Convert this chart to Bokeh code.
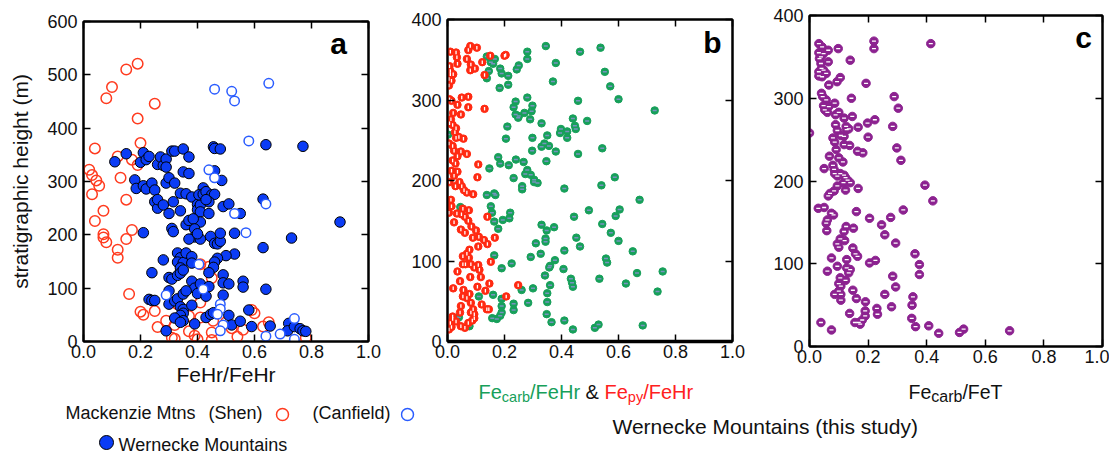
from bokeh.plotting import figure
from bokeh.models import Range1d, LinearAxis, FixedTicker, Label, PrintfTickFormatter
from bokeh.layouts import row, column
from bokeh.embed import file_html
from bokeh.resources import INLINE
import math

# ---------------- data ----------------
# Panel a: FeHr/FeHr vs stratigraphic height (m)
shen_x = [0.19, 0.15, 0.10, 0.08, 0.25, 0.19, 0.20, 0.04, 0.12, 0.17, 0.19, 0.02, 0.03, 0.045, 0.055,
          0.03, 0.13, 0.15, 0.07, 0.04, 0.07, 0.07, 0.08, 0.17, 0.15, 0.12, 0.12, 0.16, 0.20, 0.21,
          0.25, 0.26, 0.29, 0.31, 0.32, 0.32, 0.37, 0.37, 0.39, 0.40, 0.41, 0.41, 0.41, 0.44, 0.45,
          0.45, 0.45, 0.455, 0.50, 0.52, 0.54, 0.56, 0.59, 0.60, 0.63, 0.65, 0.78, 0.33]
shen_y = [521, 510, 477, 456, 446, 418, 372, 362, 347, 341, 331, 322, 312, 302, 292,
          276, 307, 266, 245, 226, 201, 195, 186, 209, 192, 172, 157, 89, 56, 50,
          57, 27, 39, 7, 5, 31, 48, 19, 11, 4, 45, 73, 145, 140, 119,
          17, 3, 39, 36, 25, 9, 22, 59, 53, 28, 36, 7, 70]

canfield_x = [0.46, 0.52, 0.53, 0.65, 0.58, 0.44, 0.46, 0.53, 0.57, 0.64, 0.405, 0.42, 0.29, 0.48,
              0.48, 0.47, 0.49, 0.48, 0.64, 0.69, 0.74, 0.74]
canfield_y = [473, 469, 451, 484, 376, 322, 307, 240, 204, 258, 145, 98, 87, 70,
              61, 51, 31, 20, 10, 14, 4, 43]

wern_x = [0.11, 0.15, 0.18, 0.185, 0.21, 0.20, 0.21, 0.22, 0.23, 0.21, 0.22, 0.24, 0.25, 0.25, 0.26,
          0.26, 0.28, 0.26, 0.27, 0.28, 0.29, 0.29, 0.29, 0.30, 0.31, 0.32, 0.35, 0.32, 0.315, 0.30,
          0.31, 0.315, 0.35, 0.37, 0.37, 0.34, 0.34, 0.36, 0.36, 0.38, 0.40, 0.40, 0.41, 0.42, 0.405,
          0.42, 0.43, 0.45, 0.46, 0.44, 0.43, 0.41, 0.41, 0.44, 0.37, 0.385, 0.39, 0.39, 0.37, 0.41,
          0.40, 0.446, 0.46, 0.47, 0.48, 0.48, 0.49, 0.51, 0.55, 0.53, 0.456, 0.46, 0.48, 0.485, 0.46,
          0.64, 0.77, 0.90, 0.73, 0.63, 0.63, 0.53, 0.50, 0.47, 0.46, 0.456, 0.44, 0.49, 0.28, 0.24,
          0.30, 0.31, 0.33, 0.33, 0.34, 0.33, 0.35, 0.34, 0.34, 0.35, 0.36, 0.38, 0.38, 0.38, 0.39,
          0.41, 0.40, 0.43, 0.44, 0.49, 0.51, 0.49, 0.56, 0.56, 0.64, 0.23, 0.24, 0.25, 0.30, 0.30,
          0.32, 0.33, 0.35, 0.36, 0.34, 0.35, 0.35, 0.34, 0.38, 0.32, 0.35, 0.34, 0.29, 0.39, 0.43,
          0.446, 0.456, 0.51, 0.52, 0.55, 0.58, 0.59, 0.655, 0.72, 0.716, 0.74, 0.76, 0.77, 0.78]
wern_y = [337, 352, 303, 287, 204, 336, 354, 341, 347, 292, 286, 297, 284, 262, 250,
          266, 256, 332, 346, 330, 342, 327, 297, 307, 357, 357, 361, 297, 262, 240,
          212, 206, 318, 346, 315, 278, 245, 219, 277, 271, 257, 247, 256, 288, 275,
          276, 281, 275, 276, 262, 266, 243, 224, 240, 227, 230, 211, 196, 192, 192,
          202, 197, 184, 183, 188, 203, 253, 258, 240, 203, 365, 362, 361, 302, 320,
          369, 366, 224, 194, 176, 267, 164, 161, 156, 149, 139, 129, 125, 153, 129,
          120, 117, 124, 166, 157, 149, 148, 138, 128, 134, 166, 159, 147, 113, 100,
          108, 90, 85, 103, 110, 108, 87, 113, 102, 98, 79, 77, 77, 95, 70,
          76, 80, 89, 95, 65, 60, 53, 49, 68, 44, 39, 36, 20, 33, 45,
          51, 54, 49, 31, 38, 59, 28, 29, 34, 20, 28, 24, 20, 19]

# Panel b: Fe_carb/FeHr (green) and Fe_py/FeHr (red) vs height (m)
carb_x = [0.345, 0.537, 0.465, 0.28, 0.28, 0.38, 0.138, 0.166, 0.152, 0.16, 0.185, 0.19, 0.213, 0.243,
          0.25, 0.145, 0.138, 0.183, 0.213, 0.37, 0.552, 0.571, 0.60, 0.458, 0.727, 0.28, 0.239, 0.232,
          0.298, 0.295, 0.27, 0.25, 0.239, 0.248, 0.29, 0.33, 0.44, 0.49, 0.447, 0.45, 0.398, 0.395,
          0.42, 0.42, 0.21, 0.205, 0.298, 0.35, 0.356, 0.34, 0.33, 0.38, 0.297, 0.543, 0.458, 0.347,
          0.178, 0.24, 0.267, 0.185, 0.215, 0.147, 0.28, 0.273, 0.292, 0.304, 0.304, 0.316, 0.232, 0.262,
          0.262, 0.41, 0.54, 0.587, 0.674, 0.168, 0.164, 0.138, 0.152, 0.156, 0.164, 0.178, 0.194, 0.22,
          0.217, 0.045, 0.496, 0.604, 0.59, 0.444, 0.543, 0.33, 0.348, 0.374, 0.573, 0.31, 0.344, 0.344,
          0.452, 0.465, 0.60, 0.65, 0.41, 0.327, 0.292, 0.164, 0.556, 0.56, 0.755, 0.665, 0.377, 0.36,
          0.357, 0.19, 0.225, 0.407, 0.342, 0.433, 0.437, 0.44, 0.36, 0.533, 0.626, 0.30, 0.26, 0.35,
          0.35, 0.283, 0.232, 0.232, 0.19, 0.19, 0.185, 0.157, 0.173, 0.11, 0.16, 0.19, 0.737, 0.685,
          0.348, 0.365, 0.41, 0.44, 0.517, 0.53, 0.077, 0.04, 0.002]
carb_y = [367, 365, 360, 360, 351, 346, 354, 351, 347, 345, 339, 333, 330, 338,
          343, 336, 327, 315, 319, 323, 335, 317, 301, 299, 287, 303, 298, 291,
          293, 286, 284, 280, 282, 278, 276, 271, 277, 274, 268, 264, 264, 259,
          261, 253, 267, 252, 253, 256, 243, 246, 242, 236, 237, 240, 233, 224,
          229, 226, 223, 221, 219, 215, 213, 208, 207, 201, 198, 197, 203, 193,
          189, 190, 194, 204, 176, 182, 184, 182, 168, 160, 149, 140, 151, 160,
          153, 167, 163, 164, 156, 155, 146, 145, 138, 142, 135, 122, 124, 128,
          129, 118, 125, 112, 113, 109, 105, 107, 103, 98, 87, 85, 101, 94,
          92, 91, 97, 90, 82, 78, 73, 68, 70, 78, 72, 66, 64, 60,
          49, 48, 47, 39, 44, 36, 32, 29, 28, 56, 58, 53, 62, 20,
          34, 24, 26, 15, 17, 21, 19, 30, 257]

py_x = [0.01, 0.03, 0.033, 0.035, 0.068, 0.08, 0.073, 0.103, 0.082, 0.08, 0.096, 0.122, 0.13, 0.15,
        0.204, 0.2, 0.206, 0.007, 0.01, 0.01, 0.02, 0.005, 0.005, 0.014, 0.007, 0.014, 0.035, 0.05,
        0.073, 0.073, 0.13, 0.02, 0.047, 0.012, 0.007, 0.018, 0.03, 0.026, 0.04, 0.03, 0.056, 0.005,
        0.018, 0.023, 0.047, 0.068, 0.035, 0.018, 0.028, 0.108, 0.014, 0.035, 0.105, 0.023, 0.007, 0.028,
        0.042, 0.05, 0.058, 0.068, 0.09, 0.012, 0.014, 0.005, 0.023, 0.033, 0.049, 0.054, 0.061, 0.075,
        0.073, 0.084, 0.047, 0.061, 0.10, 0.089, 0.108, 0.11, 0.14, 0.128, 0.14, 0.166, 0.077, 0.068,
        0.054, 0.075, 0.082, 0.063, 0.094, 0.054, 0.108, 0.112, 0.117, 0.152, 0.08, 0.044, 0.035, 0.105,
        0.147, 0.133, 0.248, 0.02, 0.056, 0.054, 0.068, 0.077, 0.047, 0.082, 0.12, 0.09, 0.094, 0.087,
        0.138, 0.145, 0.03, 0.018, 0.01, 0.005, 0.014, 0.047, 0.061, 0.073, 0.018, 0.044, 0.094, 0.082]
py_y = [360, 359, 353, 345, 351, 367, 362, 365, 344, 337, 339, 347, 331, 355,
        356, 355, 56, 342, 336, 332, 332, 326, 318, 324, 301, 299, 294, 303,
        304, 291, 289, 284, 282, 276, 271, 269, 265, 260, 254, 253, 252, 246,
        243, 237, 236, 233, 230, 225, 221, 220, 212, 211, 204, 206, 198, 193,
        198, 193, 188, 185, 183, 176, 168, 160, 148, 159, 158, 165, 155, 163,
        150, 143, 139, 135, 138, 129, 118, 130, 155, 126, 121, 129, 114, 109,
        106, 104, 96, 96, 92, 96, 95, 89, 80, 99, 80, 75, 87, 68,
        72, 63, 70, 66, 64, 56, 54, 59, 44, 48, 46, 40, 34, 26,
        40, 40, 25, 31, 23, 15, 18, 19, 17, 23, 28, 36, 29, 36]

# Panel c: Fe_carb/FeT vs height (m)
fet_x = [0.032, 0.043, 0.064, 0.098, 0.22, 0.22, 0.414, 0.139, 0.064, 0.032, 0.034, 0.039, 0.041, 0.032,
         0.032, 0.048, 0.057, 0.043, 0.039, 0.048, 0.105, 0.094, 0.193, 0.066, 0.041, 0.045, 0.057, 0.143,
         0.289, 0.303, 0.048, 0.066, 0.052, 0.061, 0.086, 0.10, 0.089, 0.118, 0.146, 0.223, 0.198, 0.284,
         0.089, 0.125, 0.127, 0.134, 0.166, 0.095, 0.107, 0.118, 0.08, 0.20, 0.0, 0.086, 0.118, 0.137,
         0.298, 0.091, 0.164, 0.182, 0.312, 0.068, 0.10, 0.114, 0.08, 0.05, 0.084, 0.086, 0.105, 0.095,
         0.118, 0.123, 0.13, 0.116, 0.139, 0.095, 0.123, 0.166, 0.084, 0.07, 0.064, 0.394, 0.421, 0.03,
         0.05, 0.075, 0.082, 0.16, 0.32, 0.205, 0.277, 0.061, 0.057, 0.059, 0.246, 0.15, 0.125, 0.118,
         0.257, 0.105, 0.12, 0.294, 0.095, 0.10, 0.148, 0.157, 0.164, 0.36, 0.075, 0.127, 0.375, 0.225,
         0.205, 0.095, 0.061, 0.127, 0.139, 0.134, 0.375, 0.284, 0.105, 0.123, 0.10, 0.107, 0.294, 0.148,
         0.10, 0.107, 0.086, 0.257, 0.353, 0.16, 0.107, 0.191, 0.35, 0.28, 0.23, 0.19, 0.137, 0.232,
         0.19, 0.18, 0.349, 0.039, 0.155, 0.173, 0.168, 0.362, 0.407, 0.075, 0.441, 0.512, 0.526, 0.683]
fet_y = [366, 362, 358, 360, 369, 360, 366, 346, 344, 355, 348, 342, 336, 332,
         327, 334, 330, 326, 350, 354, 325, 320, 318, 316, 306, 302, 298, 300,
         302, 288, 291, 290, 286, 283, 294, 283, 280, 276, 278, 274, 270, 266,
         268, 266, 262, 263, 265, 261, 255, 254, 252, 253, 258, 247, 244, 243,
         240, 238, 236, 234, 225, 230, 228, 223, 219, 215, 214, 209, 209, 206,
         207, 204, 201, 198, 198, 194, 189, 191, 188, 185, 182, 195, 176, 167,
         168, 161, 159, 163, 165, 155, 156, 153, 149, 140, 147, 143, 145, 139,
         135, 130, 128, 125, 124, 120, 119, 112, 109, 112, 107, 105, 99, 104,
         101, 97, 91, 95, 93, 89, 87, 85, 83, 80, 76, 73, 72, 68,
         67, 63, 63, 63, 60, 58, 56, 54, 50, 48, 46, 43, 40, 39,
         37, 32, 34, 29, 29, 27, 29, 24, 25, 20, 16, 17, 21, 19]

x_ticks = [0.0, 0.2, 0.4, 0.6, 0.8, 1.0]
a_y_ticks = [0, 100, 200, 300, 400, 500, 600]
bc_y_ticks = [0, 100, 200, 300, 400]

# ---------------- styling helpers ----------------
FONT = "Liberation Sans"
INK = "#111111"
A_H = 392          # height of panel a (includes its x-axis title)
BC_H = 372         # height of panels b and c

# Arial / Liberation Sans advance widths (per 1000 em) for composite labels
CW = {'F': 611, 'e': 556, 'c': 500, 'a': 556, 'r': 333, 'b': 556, '/': 278, 'H': 722,
      ' ': 278, '&': 667, 'p': 556, 'y': 500, 'T': 611}


def text_width(s, size):
    return sum(CW.get(ch, 556) for ch in s) * size / 1000.0


def style_axis(ax, ticks, label_size=None, standoff=6, fmt=None):
    ax.ticker = FixedTicker(ticks=ticks)
    ax.major_tick_in = 7
    ax.major_tick_out = 0
    ax.minor_tick_line_color = None
    ax.major_tick_line_color = "black"
    ax.major_tick_line_width = 1.5
    ax.axis_line_color = "black"
    ax.axis_line_width = 2
    ax.axis_label_standoff = 0
    ax.major_label_text_font = FONT
    ax.major_label_text_color = INK
    if label_size is None:
        ax.major_label_overrides = {t: "" for t in ticks}
        ax.major_label_standoff = 0
    else:
        ax.major_label_text_font_size = label_size
        ax.major_label_standoff = standoff
        if fmt is not None:
            ax.formatter = fmt


def make_panel(width, height, left, right, top, frame_h, ymax, yticks, xstand=3):
    p = figure(width=width, height=height, x_range=Range1d(0, 1), y_range=Range1d(0, ymax),
               x_axis_type=None, y_axis_type=None,
               min_border_left=left, min_border_right=right, min_border_top=top,
               min_border_bottom=height - top - frame_h, output_backend="svg",
               toolbar_location=None, tools="")
    p.frame_align = False
    p.grid.visible = False
    p.outline_line_color = "black"
    p.outline_line_width = 2
    p.background_fill_color = "white"
    p.border_fill_color = "white"
    bottom = LinearAxis()
    style_axis(bottom, x_ticks, "18px", xstand, PrintfTickFormatter(format="%.1f"))
    leftax = LinearAxis()
    style_axis(leftax, yticks, "18px", 6)
    top_ax = LinearAxis()
    style_axis(top_ax, x_ticks)
    right_ax = LinearAxis()
    style_axis(right_ax, yticks)
    p.add_layout(bottom, "below")
    p.add_layout(leftax, "left")
    p.add_layout(top_ax, "above")
    p.add_layout(right_ax, "right")
    return p, bottom, leftax


def panel_letter(p, letter, x, y):
    p.add_layout(Label(x=x, y=y, x_units="screen", y_units="screen", text=letter,
                       text_font=FONT, text_font_style="bold", text_font_size="30px",
                       text_align="center", text_baseline="middle", text_color="black"))


GREEN = "#17a05a"
RED = "#ff2a12"
PURPLE = "#8c2290"

# ---------------- panel a ----------------
pa, a_bottom, a_left = make_panel(400, A_H, 83, 32, 21, 320, 600, a_y_ticks)
a_bottom.axis_label = "FeHr/FeHr"
a_left.axis_label = "stratigraphic height (m)"
for ax in (a_bottom, a_left):
    ax.axis_label_text_font = FONT
    ax.axis_label_text_font_style = "normal"
    ax.axis_label_text_font_size = "21px"
    ax.axis_label_text_color = INK
a_bottom.axis_label_standoff = 2
a_left.axis_label_standoff = 12

pa.scatter(shen_x, shen_y, marker="circle", size=10.5, fill_color=None,
           line_color="#ff3b1f", line_width=1.5)
pa.scatter(wern_x, wern_y, marker="circle", size=10.5, fill_color="#0b3cf5",
           line_color="black", line_width=1)
pa.scatter(canfield_x, canfield_y, marker="circle", size=9.5, fill_color="white",
           line_color="#2a5cff", line_width=1.5)
panel_letter(pa, "a", 255, 298)

# ---------------- panel b ----------------
pb, b_bottom, b_left = make_panel(370, BC_H, 47, 38, 19, 322, 400, bc_y_ticks)
b_bottom.axis_line_width = 3.5
pb.scatter(carb_x, carb_y, marker="circle", size=7.5, fill_color=GREEN,
           line_color=GREEN, line_width=1)
pb.scatter(carb_x, carb_y, marker="dash", size=4, line_color="#7891c0", line_width=1.5)
pb.scatter(py_x, py_y, marker="circle", size=7.5, fill_color=RED,
           line_color=RED, line_width=1)
pb.scatter(py_x, py_y, marker="dash", size=3.5, angle=math.pi / 2,
           line_color="white", line_width=1.3)
panel_letter(pb, "b", 265, 299)

# ---------------- panel c ----------------
pc, c_bottom, c_left = make_panel(339, BC_H, 39, 7, 15, 331, 400, bc_y_ticks, xstand=3)
pc.scatter(fet_x, fet_y, marker="circle", size=8.5, fill_color=PURPLE,
           line_color=PURPLE, line_width=1)
pc.scatter(fet_x, fet_y, marker="dash", size=4, line_color="white", line_width=1.3)
panel_letter(pc, "c", 274, 309)


# ---------------- bottom strips: legend and axis titles ----------------
def make_strip(width, height):
    s = figure(width=width, height=height, x_range=Range1d(0, width), y_range=Range1d(height, 0),
               x_axis_type=None, y_axis_type=None, min_border=0, output_backend="svg",
               toolbar_location=None, tools="")
    s.frame_align = False
    s.grid.visible = False
    s.outline_line_color = None
    s.background_fill_color = "white"
    s.border_fill_color = "white"
    return s


sa = make_strip(400, 453 - A_H)      # page x 0..400, y A_H..453
sbc = make_strip(709, 453 - BC_H)    # page x 400..1109, y BC_H..453


def strip_text(s, ox, oy, x, y, txt, size, color=INK, align="left", baseline="middle"):
    s.add_layout(Label(x=x - ox, y=y - oy, text=txt, text_font=FONT, text_font_size=f"{size}px",
                       text_color=color, text_align=align, text_baseline=baseline))


def composite(s, ox, oy, pieces, x0, base):
    x = x0
    for txt, size, color, dy in pieces:
        lead = len(txt) - len(txt.lstrip(" "))
        trail = len(txt) - len(txt.rstrip(" "))
        core = txt.strip(" ")
        x += text_width(" " * lead, size)
        strip_text(s, ox, oy, x, base + dy, core, size, color, "left", "alphabetic")
        x += text_width(core, size) + text_width(" " * trail, size)


# legend for panel a
strip_text(sa, 0, A_H, 65, 412, "Mackenzie Mtns", 18)
strip_text(sa, 0, A_H, 208, 412, "(Shen)", 18)
sa.scatter([282], [414 - A_H], marker="circle", size=12, fill_color=None,
           line_color="#ff3b1f", line_width=1.5)
strip_text(sa, 0, A_H, 312, 412, "(Canfield)", 18)
sa.scatter([106], [442 - A_H], marker="circle", size=14, fill_color="#0b3cf5",
           line_color="black", line_width=1)
strip_text(sa, 0, A_H, 118, 444, "Wernecke Mountains", 18)
sbc.scatter([407 - 400], [414 - BC_H], marker="circle", size=12, fill_color=None,
            line_color="#2a5cff", line_width=1.5)

# axis titles of panels b and c
composite(sbc, 400, BC_H, [("Fe", 20, GREEN, 0), ("carb", 14.5, GREEN, 5), ("/FeHr", 20, GREEN, 0),
                           (" & ", 20, INK, 0), ("Fe", 20, "#ff2020", 0), ("py", 14.5, "#ff2020", 5),
                           ("/FeHr", 20, "#ff2020", 0)], 478, 391)
composite(sbc, 400, BC_H, [("Fe", 19.5, INK, 0), ("carb", 16, INK, 5), ("/FeT", 19.5, INK, 0)], 908, 391)
strip_text(sbc, 400, BC_H, 612, 426, "Wernecke Mountains (this study)", 21)

layout = row(column(pa, sa, spacing=0), column(row(pb, pc, spacing=0), sbc, spacing=0), spacing=0)
open("out.html", "w").write(file_html(layout, INLINE))
